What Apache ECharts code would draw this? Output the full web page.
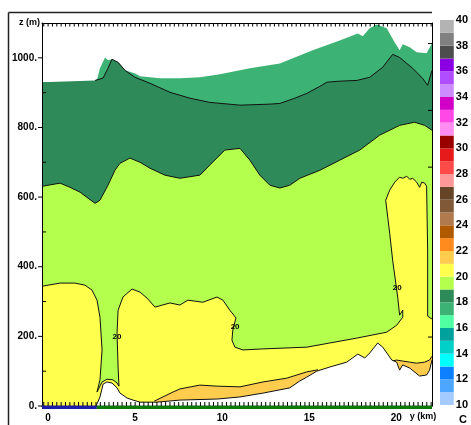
<!DOCTYPE html>
<html>
<head>
<meta charset="utf-8">
<script src="https://cdn.jsdelivr.net/npm/echarts@6/dist/echarts.min.js"></script>
<style>
  html, body { margin: 0; padding: 0; background: #fff; }
  #c { width: 471px; height: 425px; }
</style>
</head>
<body>
<div id="c"></div>
<script>
// ---- axes ----
const xLabelValues = [0, 5, 10, 15, 20];           // y (km)
const zLabelValues = [0, 200, 400, 600, 800, 1000]; // z (m)
const zMinorValues = [100, 300, 500, 700, 900];
const rightTickValues = [198, 686, 849, 1041];

// ---- temperature colour scale, one colour per 1 C band from 10 to 40 ----
const bandStarts = [10, 11, 12, 13, 14, 15, 16, 17, 18, 19, 20, 21, 22, 23, 24,
                    25, 26, 27, 28, 29, 30, 31, 32, 33, 34, 35, 36, 37, 38, 39];
const bandColors = ['#a3cbff', '#4da6ff', '#0d80ff', '#00ffff', '#00d0c8', '#00a09d',
                    '#50ffa2', '#3cb374', '#2e8b59', '#b4ff4d', '#ffff4d', '#ffcc4d',
                    '#ff8a1e', '#b05a00', '#b07a4e', '#805a38', '#664428', '#ff9898',
                    '#ff4a4a', '#e61a1a', '#990000', '#ff8cf0', '#ff48e6', '#d200c6',
                    '#cc8cff', '#b04dff', '#8a00e2', '#4d4d4d', '#808080', '#b3b3b3'];

// ---- field outlines, [y km, z m] ----
const topEdge = [[-0.35, 930], [2.52, 930], [2.81, 938], [2.98, 970], [3.27, 1001], [3.44, 993],
  [3.67, 996], [4.02, 987], [4.42, 964], [5.0, 955], [5.28, 947], [6.43, 941], [7.57, 941],
  [8.72, 944], [9.87, 953], [11.59, 970], [13.31, 984], [15.20, 1022], [16.75, 1050],
  [17.79, 1070], [18.07, 1062], [18.47, 1085], [18.88, 1096], [19.45, 1085], [19.91, 1044],
  [20.19, 1022], [20.37, 1039], [20.77, 1030], [21.17, 1016], [21.74, 1013], [22.05, 1042]];

const isotherm18 = [[2.70, 935], [3.16, 942], [3.44, 970], [3.67, 996], [4.02, 987], [4.42, 964],
  [4.99, 944], [5.85, 927], [7.00, 901], [8.15, 884], [9.29, 872], [11.02, 864], [12.74, 867],
  [13.31, 869], [14.17, 884], [14.86, 898], [15.61, 918], [16.01, 930], [16.75, 933],
  [17.73, 935], [18.47, 944], [19.22, 973], [19.79, 1010], [20.19, 1001], [20.94, 970],
  [21.51, 941], [21.80, 921], [22.05, 964]];

const isotherm19 = [[-0.35, 631], [0.69, 640], [1.26, 628], [1.84, 614], [2.29, 597], [2.70, 582],
  [2.98, 591], [3.44, 634], [3.84, 677], [4.13, 697], [4.70, 712], [5.28, 700], [5.85, 683],
  [6.71, 663], [7.57, 654], [8.72, 663], [9.29, 692], [10.15, 735], [11.02, 740], [11.59, 706],
  [12.16, 663], [12.74, 634], [13.31, 626], [13.88, 634], [14.46, 654], [15.61, 677],
  [16.75, 706], [17.90, 735], [19.05, 778], [20.19, 806], [21.05, 815], [21.63, 806], [22.05, 792]];

const isotherm20 = [[-0.35, 344], [0.69, 353], [1.55, 353], [2.12, 347], [2.52, 333], [2.81, 304],
  [2.98, 255], [3.10, 161], [2.98, 75], [2.81, 40], [3.10, 69], [3.38, 77], [3.73, 75],
  [3.96, 66], [4.07, 57], [4.02, 112], [3.96, 209], [4.02, 275], [4.30, 313], [4.82, 336],
  [5.28, 327], [5.68, 310], [6.14, 284], [7.00, 296], [7.57, 290], [8.03, 304], [8.89, 298],
  [9.70, 313], [10.04, 304], [10.44, 275], [10.79, 253], [10.61, 218], [10.56, 189],
  [10.73, 169], [11.19, 161], [12.34, 164], [14.86, 169], [16.18, 181], [17.73, 195],
  [19.45, 212], [20.02, 232], [20.37, 255], [20.37, 275], [20.19, 261], [20.08, 313],
  [19.79, 419], [19.62, 496], [19.39, 591], [19.62, 620], [19.91, 643], [20.19, 657],
  [20.37, 654], [20.60, 660], [20.77, 651], [20.94, 654], [21.17, 643], [21.34, 628],
  [21.46, 643], [21.63, 640], [21.74, 631], [21.80, 448], [21.80, 258], [22.05, 250]];

const isotherm21West = [[6.10, 14], [7.17, 40], [7.57, 49], [8.72, 60], [9.70, 57], [11.02, 55],
  [12.34, 69], [13.71, 80], [14.86, 98], [15.50, 104]];

const isotherm21East = [[19.74, 129], [20.02, 132], [20.37, 129], [20.77, 126], [21.17, 123],
  [21.63, 126], [21.91, 132], [22.05, 143]];

const ground = [[-0.35, 0], [2.75, 0], [2.81, 6], [2.98, 26], [3.16, 63], [3.38, 69], [3.67, 66],
  [3.96, 52], [4.13, 37], [4.53, 23], [4.88, 17], [5.28, 11], [6.25, 11], [7.57, 17], [9.70, 20],
  [11.02, 26], [12.34, 37], [13.88, 52], [14.46, 72], [14.86, 83], [15.43, 100], [16.18, 112],
  [17.15, 126], [17.79, 149], [18.19, 138], [18.47, 152], [18.93, 181], [19.22, 169],
  [19.74, 132], [20.02, 126], [20.19, 103], [20.37, 118], [20.77, 109], [21.34, 86],
  [21.74, 89], [21.91, 103], [22.05, 132]];

// contour labels: y km, z m, text
const contourLabels = [[3.96, 198, '20'], [10.74, 227, '20'], [20.05, 339, '20']];

// surface type along the bottom: from km, to km, colour
const surfaceSegments = [[-0.35, 2.80, '#1c1ca8'], [2.80, 22.05, '#0b7a0b']];

const X_MIN = -0.35, X_MAX = 22.05, Z_MAX = 1100;

function closeToBase(edge) {
  const first = edge[0], last = edge[edge.length - 1];
  return edge.concat([[last[0], 0], [first[0], 0]]);
}

const layers = [
  { edge: topEdge, color: bandColors[7] },
  { edge: [[-0.35, 930]].concat(isotherm18), color: bandColors[8], line: isotherm18 },
  { edge: isotherm19, color: bandColors[9], line: isotherm19 },
  { edge: isotherm20, color: bandColors[10], line: isotherm20 },
  { edge: isotherm21West, color: bandColors[11], line: isotherm21West },
  { edge: isotherm21East, color: bandColors[11], line: isotherm21East },
  { edge: ground, color: '#ffffff', line: ground.slice(1) }
];

// tick marks around the frame: [side, value]
const frameTicks = [];
for (let v = -0.25; v <= 22.0001; v += 0.25) {
  frameTicks.push(['top', +v.toFixed(2)]);
  frameTicks.push(['bottom', +v.toFixed(2)]);
}
zLabelValues.forEach(v => frameTicks.push(['leftOut', v]));
zMinorValues.forEach(v => frameTicks.push(['leftIn', v]));
rightTickValues.forEach(v => frameTicks.push(['right', v]));

const FONT = 'Liberation Sans, Arial, Helvetica, sans-serif';

const chart = echarts.init(document.getElementById('c'));

const frameLine = { show: true, onZero: false, lineStyle: { color: '#000', width: 1 } };

chart.setOption({
  animation: false,
  backgroundColor: '#ffffff',
  grid: [
    { left: 42, right: 39, top: 23, bottom: 19, show: false },
    { left: 440, top: 20, width: 16, height: 385, show: false }
  ],
  xAxis: [
    {
      gridIndex: 0, type: 'value', min: X_MIN, max: X_MAX, position: 'bottom', z: 10,
      axisLine: frameLine,
      axisTick: { show: false },
      axisLabel: { show: true, customValues: xLabelValues, margin: 7, color: '#000',
                   fontSize: 10, fontWeight: 'bold', fontFamily: FONT },
      splitLine: { show: false }
    },
    {
      gridIndex: 0, type: 'value', min: X_MIN, max: X_MAX, position: 'top', z: 10,
      axisLine: frameLine,
      axisTick: { show: false }, axisLabel: { show: false }, splitLine: { show: false }
    },
    { gridIndex: 1, type: 'value', min: 0, max: 1, show: false }
  ],
  yAxis: [
    {
      gridIndex: 0, type: 'value', min: 0, max: Z_MAX, interval: 100, position: 'left', z: 10,
      axisLine: frameLine,
      axisTick: { show: false },
      axisLabel: {
        show: true, margin: 5, color: '#000', fontSize: 10, fontWeight: 'bold', fontFamily: FONT,
        formatter: v => (zLabelValues.indexOf(v) >= 0 ? v + '.' : '')
      },
      splitLine: { show: false }
    },
    {
      gridIndex: 0, type: 'value', min: 0, max: Z_MAX, position: 'right', z: 10,
      axisLine: frameLine,
      axisTick: { show: false }, axisLabel: { show: false }, splitLine: { show: false }
    },
    {
      gridIndex: 1, type: 'value', min: 10, max: 40, interval: 2, position: 'right',
      axisLine: { show: false }, axisTick: { show: false }, splitLine: { show: false },
      axisLabel: { show: true, margin: 2, color: '#000', fontSize: 11, fontWeight: 'bold', fontFamily: FONT }
    }
  ],
  series: [
    {
      // shaded temperature field with its isotherms and the terrain
      type: 'custom', xAxisIndex: 0, yAxisIndex: 0, clip: true, silent: true,
      data: layers.map((_, i) => i),
      renderItem: (params, api) => {
        const layer = layers[params.dataIndex];
        const children = [{
          type: 'polygon',
          shape: { points: closeToBase(layer.edge).map(p => api.coord(p)) },
          style: { fill: layer.color, stroke: null }
        }];
        if (layer.line) {
          children.push({
            type: 'polyline',
            shape: { points: layer.line.map(p => api.coord(p)) },
            style: { stroke: '#111', lineWidth: 1, fill: null }
          });
        }
        return { type: 'group', children };
      },
      z: 1
    },
    {
      // isotherm labels
      type: 'custom', xAxisIndex: 0, yAxisIndex: 0, clip: true, silent: true,
      data: contourLabels.map((d, i) => [d[0], d[1], i]),
      renderItem: (params, api) => {
        const p = api.coord([api.value(0), api.value(1)]);
        return {
          type: 'text', x: p[0], y: p[1],
          style: { text: contourLabels[params.dataIndex][2], fill: '#000', font: 'bold 8px ' + FONT,
                   align: 'center', verticalAlign: 'middle' }
        };
      },
      z: 3
    },
    {
      // surface type strip along the ground line
      type: 'custom', xAxisIndex: 0, yAxisIndex: 0, clip: false, silent: true,
      data: surfaceSegments.map((d, i) => [d[0], d[1], i]),
      renderItem: (params, api) => {
        const seg = surfaceSegments[params.dataIndex];
        const a = api.coord([seg[0], 0]);
        const b = api.coord([seg[1], 0]);
        return { type: 'rect', shape: { x: a[0], y: a[1] - 0.5, width: b[0] - a[0], height: 3.5 },
                 style: { fill: seg[2] } };
      },
      z: 12
    },
    {
      // frame tick marks
      type: 'custom', xAxisIndex: 0, yAxisIndex: 0, clip: false, silent: true,
      data: frameTicks.map((d, i) => [i]),
      renderItem: (params, api) => {
        const t = frameTicks[params.dataIndex];
        let p, s;
        if (t[0] === 'top') { p = api.coord([t[1], Z_MAX]); s = { x1: p[0], y1: p[1], x2: p[0], y2: p[1] + 3.5 }; }
        else if (t[0] === 'bottom') { p = api.coord([t[1], 0]); s = { x1: p[0], y1: p[1], x2: p[0], y2: p[1] - 4 }; }
        else if (t[0] === 'leftOut') { p = api.coord([X_MIN, t[1]]); s = { x1: p[0] - 4, y1: p[1], x2: p[0], y2: p[1] }; }
        else if (t[0] === 'leftIn') { p = api.coord([X_MIN, t[1]]); s = { x1: p[0], y1: p[1], x2: p[0] + 4, y2: p[1] }; }
        else { p = api.coord([X_MAX, t[1]]); s = { x1: p[0] - 4, y1: p[1], x2: p[0], y2: p[1] }; }
        return { type: 'line', shape: s, style: { stroke: '#000', lineWidth: 1 } };
      },
      z: 13
    },
    {
      // colour key
      type: 'custom', xAxisIndex: 2, yAxisIndex: 2, clip: false, silent: true,
      data: bandStarts.map((v, i) => [v, i]),
      renderItem: (params, api) => {
        const v = bandStarts[params.dataIndex];
        const top = api.coord([0, v + 1]);
        const bot = api.coord([1, v]);
        return { type: 'rect', shape: { x: top[0], y: top[1], width: bot[0] - top[0], height: bot[1] - top[1] },
                 style: { fill: bandColors[params.dataIndex] } };
      }
    }
  ],
  graphic: [
    { type: 'line', shape: { x1: 8.5, y1: 12.5, x2: 432, y2: 12.5 }, style: { stroke: '#222', lineWidth: 1.5 }, silent: true },
    { type: 'line', shape: { x1: 8.5, y1: 12.5, x2: 8.5, y2: 425 }, style: { stroke: '#222', lineWidth: 1.5 }, silent: true },
    { type: 'text', x: 40, y: 23, style: { text: 'z (m)', font: 'bold 9px ' + FONT, fill: '#000', align: 'right', verticalAlign: 'middle' }, silent: true },
    { type: 'text', x: 423, y: 417, style: { text: 'y (km)', font: 'bold 9px ' + FONT, fill: '#000', align: 'center', verticalAlign: 'middle' }, silent: true },
    { type: 'text', x: 463, y: 420, style: { text: 'C', font: 'bold 11px ' + FONT, fill: '#000', align: 'center', verticalAlign: 'middle' }, silent: true }
  ]
});
</script>
</body>
</html>
